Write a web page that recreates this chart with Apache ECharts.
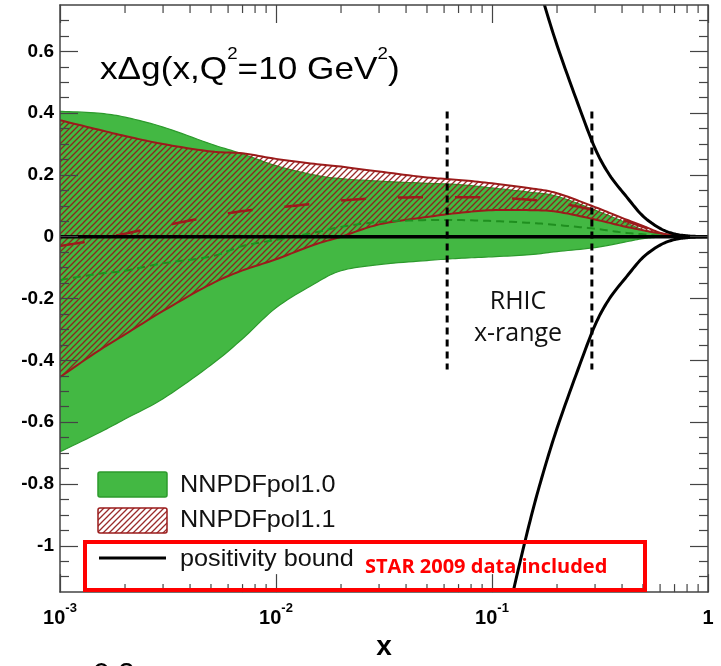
<!DOCTYPE html>
<html><head><meta charset="utf-8">
<script src="https://cdn.jsdelivr.net/npm/echarts@6/dist/echarts.min.js"></script>
<style>html,body{margin:0;padding:0;background:#fff}#c{width:721px;height:666px}</style>
</head><body><div id="c"></div>
<script>
// ---- data ----
const xGrid   = [0.001, 0.0015, 0.002, 0.003, 0.005, 0.007, 0.01, 0.015, 0.02, 0.03, 0.05, 0.07, 0.1, 0.15, 0.2, 0.3, 0.4, 0.5, 0.6, 0.7, 0.8, 1.0];
const pol10Up  = [0.406, 0.40, 0.387, 0.355, 0.30, 0.268, 0.23, 0.20, 0.188, 0.18, 0.173, 0.169, 0.158, 0.144, 0.131, 0.086, 0.051, 0.022, 0.008, 0.002, 0.0005, 0];
const pol10Lo  = [-0.696, -0.636, -0.59, -0.524, -0.415, -0.33, -0.23, -0.153, -0.11, -0.09, -0.077, -0.07, -0.065, -0.058, -0.048, -0.035, -0.019, -0.006, -0.0016, -0.0005, 0, 0];
const pol10Mid = [-0.14, -0.12, -0.11, -0.086, -0.064, -0.03, -0.01, 0.013, 0.032, 0.048, 0.054, 0.054, 0.051, 0.045, 0.038, 0.026, 0.014, 0.008, 0.003, 0.001, 0, 0];
const pol11Up  = [0.377, 0.347, 0.326, 0.30, 0.276, 0.27, 0.252, 0.236, 0.227, 0.211, 0.192, 0.184, 0.173, 0.157, 0.141, 0.096, 0.061, 0.035, 0.013, 0.003, 0.0007, 0];
const pol11Lo  = [-0.454, -0.37, -0.316, -0.24, -0.153, -0.109, -0.073, -0.026, 0.0, 0.04, 0.064, 0.077, 0.086, 0.086, 0.081, 0.056, 0.035, 0.021, 0.011, 0.005, 0.001, 0];
const pol11Mid = [-0.03, -0.009, 0.01, 0.035, 0.066, 0.083, 0.094, 0.107, 0.117, 0.125, 0.128, 0.128, 0.127, 0.12, 0.11, 0.085, 0.055, 0.032, 0.013, 0.005, 0.001, 0];
const boundX     = [0.115, 0.12, 0.13, 0.15, 0.17, 0.2, 0.25, 0.3, 0.35, 0.42, 0.5, 0.6, 0.7, 0.8, 0.9, 1.0];
const boundUpper = [1.28, 1.21, 1.10, 0.92, 0.78, 0.62, 0.43, 0.286, 0.20, 0.129, 0.067, 0.027, 0.009, 0.003, 0.0008, 0];
const boundLower = [-1.28, -1.21, -1.10, -0.92, -0.78, -0.62, -0.43, -0.286, -0.20, -0.129, -0.067, -0.027, -0.009, -0.003, -0.0008, 0];
const zeroX = [0.001, 1];
const zeroY = [0, 0];
const rhicX = [0.062, 0.29];
const rhicY = [0.405, -0.43];
const yMajorTicks = [-1, -0.8, -0.6, -0.4, -0.2, 0, 0.2, 0.4, 0.6];
const yMinorTicks = [-1.1, -1.05, -0.95, -0.9, -0.85, -0.75, -0.7, -0.65, -0.55, -0.5, -0.45, -0.35, -0.3, -0.25, -0.15, -0.1, -0.05, 0.05, 0.1, 0.15, 0.25, 0.3, 0.35, 0.45, 0.5, 0.55, 0.65, 0.7];
const xMinorTicks = [0.002,0.003,0.004,0.005,0.006,0.007,0.008,0.009,0.02,0.03,0.04,0.05,0.06,0.07,0.08,0.09,0.2,0.3,0.4,0.5,0.6,0.7,0.8,0.9];
const Y_MIN = -1.15, Y_MAX = 0.75, X_MIN = 0.001, X_MAX = 1;

// ---- styles ----
const GREEN = '#43b843', GREEN_EDGE = '#2c9a2c', RED = '#9b1b1b', AX = '#444';
const SANS = 'Liberation Sans, Arial, Helvetica, sans-serif';
const OPEN = 'Open Sans, Noto Sans, sans-serif';

function makeHatch() {
  const s = 6, c = document.createElement('canvas');
  c.width = s; c.height = s;
  const ctx = c.getContext('2d');
  ctx.strokeStyle = 'rgba(145,25,25,0.92)';
  ctx.lineWidth = 1.3;
  ctx.beginPath();
  ctx.moveTo(0, s); ctx.lineTo(s, 0);
  ctx.moveTo(-1, 1); ctx.lineTo(1, -1);
  ctx.moveTo(s - 1, s + 1); ctx.lineTo(s + 1, s - 1);
  ctx.stroke();
  return c;
}
const hatch = makeHatch();

function spline(P, n) {
  const out = [];
  for (let i = 0; i < P.length - 1; i++) {
    const p0 = P[Math.max(i - 1, 0)], p1 = P[i], p2 = P[i + 1], p3 = P[Math.min(i + 2, P.length - 1)];
    for (let k = 0; k < n; k++) {
      const t = k / n, t2 = t * t, t3 = t2 * t;
      out.push([0, 1].map(d => 0.5 * ((2 * p1[d]) + (-p0[d] + p2[d]) * t +
        (2 * p0[d] - 5 * p1[d] + 4 * p2[d] - p3[d]) * t2 + (-p0[d] + 3 * p1[d] - 3 * p2[d] + p3[d]) * t3)));
    }
  }
  out.push(P[P.length - 1]);
  return out;
}

function band(name, lo, hi, fill, edge, lw, z) {
  return {
    type: 'custom', name: name, xAxisIndex: 0, yAxisIndex: 0, z: z, silent: true, clip: true,
    data: [[0.01, 0]],
    renderItem: function (params, api) {
      const up = spline(xGrid.map((x, i) => api.coord([x, hi[i]])), 10);
      const dn = spline(xGrid.map((x, i) => api.coord([x, lo[i]])), 10);
      const poly = up.concat(dn.slice().reverse());
      return { type: 'group', children: [
        { type: 'polygon', shape: { points: poly }, style: { fill: fill, stroke: null } },
        { type: 'polyline', shape: { points: up }, style: { fill: null, stroke: edge, lineWidth: lw } },
        { type: 'polyline', shape: { points: dn }, style: { fill: null, stroke: edge, lineWidth: lw } }
      ]};
    }
  };
}

function curve(name, xs, ys, stroke, lw, dash, z) {
  return {
    type: 'custom', name: name, xAxisIndex: 0, yAxisIndex: 0, z: z, silent: true, clip: true,
    data: [[0.01, 0]],
    renderItem: function (params, api) {
      const pts = spline(xs.map((x, i) => api.coord([x, ys[i]])), 10);
      return { type: 'polyline', shape: { points: pts },
        style: { fill: null, stroke: stroke, lineWidth: lw, lineDash: dash || null } };
    }
  };
}

const chart = echarts.init(document.getElementById('c'), null, { renderer: 'canvas' });

const xLabelRich = {
  b: { fontSize: 20, fontWeight: 'bold', fontFamily: SANS, color: '#000', lineHeight: 26, verticalAlign: 'bottom' },
  sup: { fontSize: 13, fontWeight: 'bold', fontFamily: SANS, color: '#000', lineHeight: 13, verticalAlign: 'top' }
};

function xAxisBase(pos, extra) {
  return Object.assign({
    type: 'log', logBase: 10, min: X_MIN, max: X_MAX, position: pos, z: 10,
    axisLine: { show: true, onZero: false, lineStyle: { color: AX, width: 1.5 } },
    axisTick: { show: true, inside: true, length: 18, lineStyle: { color: AX, width: 1.2 } },
    axisLabel: { show: false },
    splitLine: { show: false }, minorTick: { show: false }, minorSplitLine: { show: false }
  }, extra || {});
}
function yAxisBase(pos, ticks, len, line, extra) {
  return Object.assign({
    type: 'value', min: Y_MIN, max: Y_MAX, position: pos, z: 10,
    axisLine: { show: line, onZero: false, lineStyle: { color: AX, width: 1.5 } },
    axisTick: { show: true, inside: true, length: len, customValues: ticks, lineStyle: { color: AX, width: 1.2 } },
    axisLabel: { show: false },
    splitLine: { show: false }
  }, extra || {});
}

const option = {
  backgroundColor: '#fff',
  animation: false,
  grid: { left: 60, right: 13, top: 5, bottom: 67, containLabel: false },
  xAxis: [
    xAxisBase('bottom', {
      name: 'x', nameLocation: 'middle', nameGap: 40,
      nameTextStyle: { fontSize: 28, fontWeight: 'bold', fontFamily: SANS, color: '#000' },
      axisLabel: {
        show: true, margin: 10,
        formatter: function (v) {
          const e = Math.round(Math.log10(v));
          return e === 0 ? '{b|1}' : '{b|10}{sup|' + e + '}';
        },
        rich: xLabelRich
      }
    }),
    xAxisBase('top')
  ],
  yAxis: [
    yAxisBase('left', yMajorTicks, 18, true, {
      axisLabel: {
        show: true, margin: 6, customValues: yMajorTicks,
        fontSize: 19, fontWeight: 'bold', fontFamily: SANS, color: '#000',
        formatter: v => String(+(+v).toFixed(1))
      }
    }),
    yAxisBase('left', yMinorTicks, 9, false),
    yAxisBase('right', yMajorTicks, 18, true),
    yAxisBase('right', yMinorTicks, 9, false)
  ],
  series: [
    band('NNPDFpol1.0', pol10Lo, pol10Up, GREEN, GREEN_EDGE, 1.2, 2),
    band('NNPDFpol1.1', pol11Lo, pol11Up, { image: hatch, repeat: 'repeat' }, RED, 2, 3),
    curve('NNPDFpol1.0 central', xGrid, pol10Mid, '#1f8f1f', 2, [8, 5], 4),
    curve('NNPDFpol1.1 central', xGrid, pol11Mid, RED, 2.5, [25, 32], 5),
    {
      type: 'line', name: 'zero', z: 6, symbol: 'none', silent: true,
      data: zeroX.map((x, i) => [x, zeroY[i]]),
      lineStyle: { color: '#000', width: 3.5 }
    },
    curve('positivity bound +', boundX, boundUpper, '#000', 3, null, 7),
    curve('positivity bound -', boundX, boundLower, '#000', 3, null, 7),
    {
      type: 'line', name: 'RHIC low', z: 8, symbol: 'none', silent: true,
      data: rhicY.map(y => [rhicX[0], y]),
      lineStyle: { color: '#000', width: 3, type: [7, 5] }
    },
    {
      type: 'line', name: 'RHIC high', z: 8, symbol: 'none', silent: true,
      data: rhicY.map(y => [rhicX[1], y]),
      lineStyle: { color: '#000', width: 3, type: [7, 5] }
    },
    {
      type: 'custom', name: 'x minor ticks', xAxisIndex: 0, yAxisIndex: 0, z: 11, silent: true, clip: false,
      data: xMinorTicks.map(v => [v, Y_MIN]),
      renderItem: function (params, api) {
        const v = api.value(0);
        const b = api.coord([v, Y_MIN]), t = api.coord([v, Y_MAX]);
        return { type: 'group', children: [
          { type: 'line', shape: { x1: b[0], y1: b[1], x2: b[0], y2: b[1] - 8 }, style: { stroke: AX, lineWidth: 1.2 } },
          { type: 'line', shape: { x1: t[0], y1: t[1], x2: t[0], y2: t[1] + 8 }, style: { stroke: AX, lineWidth: 1.2 } }
        ]};
      }
    }
  ],
  graphic: [
    { type: 'text', left: 100, top: 46, scaleX: 1.1, z: 100,
      style: { text: '{m|x\u0394g(x,Q}{s|2}{m|=10 GeV}{s|2}{m|)}', fill: '#000',
        rich: {
          m: { fontSize: 32, fontFamily: SANS, color: '#000', lineHeight: 40, verticalAlign: 'bottom' },
          s: { fontSize: 17, fontFamily: SANS, color: '#000', lineHeight: 26, verticalAlign: 'top' }
        } } },
    { type: 'text', x: 518, y: 302, z: 100,
      style: { text: 'RHIC', fill: '#111', font: '25px ' + OPEN, align: 'center', verticalAlign: 'middle' } },
    { type: 'text', x: 518, y: 334, z: 100,
      style: { text: 'x-range', fill: '#111', font: '25px ' + OPEN, align: 'center', verticalAlign: 'middle' } },
    // legend
    { type: 'rect', z: 100, shape: { x: 98, y: 472, width: 69, height: 25, r: 2 },
      style: { fill: GREEN, stroke: GREEN_EDGE, lineWidth: 1.5 } },
    { type: 'rect', z: 100, shape: { x: 98, y: 508, width: 69, height: 25, r: 2 },
      style: { fill: { image: hatch, repeat: 'repeat' }, stroke: RED, lineWidth: 1.5 } },
    { type: 'line', z: 100, shape: { x1: 99, y1: 558, x2: 166, y2: 558 },
      style: { stroke: '#000', lineWidth: 3 } },
    { type: 'text', x: 180, y: 485, scaleX: 1.05, z: 100,
      style: { text: 'NNPDFpol1.0', fill: '#111', font: '24px ' + SANS, verticalAlign: 'middle' } },
    { type: 'text', x: 180, y: 520, scaleX: 1.05, z: 100,
      style: { text: 'NNPDFpol1.1', fill: '#111', font: '24px ' + SANS, verticalAlign: 'middle' } },
    { type: 'text', x: 180, y: 559, scaleX: 1.05, z: 100,
      style: { text: 'positivity bound', fill: '#111', font: '24px ' + SANS, verticalAlign: 'middle' } },
    // annotation box
    { type: 'rect', z: 101, shape: { x: 85, y: 542, width: 560, height: 48 },
      style: { fill: null, stroke: '#ff0000', lineWidth: 4 } },
    { type: 'text', x: 365, y: 567, z: 101,
      style: { text: 'STAR 2009 data included', fill: '#ff0000', font: 'bold 20px ' + OPEN, verticalAlign: 'middle' } },
    // cropped fragment at bottom
    { type: 'text', x: 93, y: 660, z: 101,
      style: { text: '0.2', fill: '#000', font: '30px ' + SANS, verticalAlign: 'top' } }
  ]
};
chart.setOption(option);
</script></body></html>
